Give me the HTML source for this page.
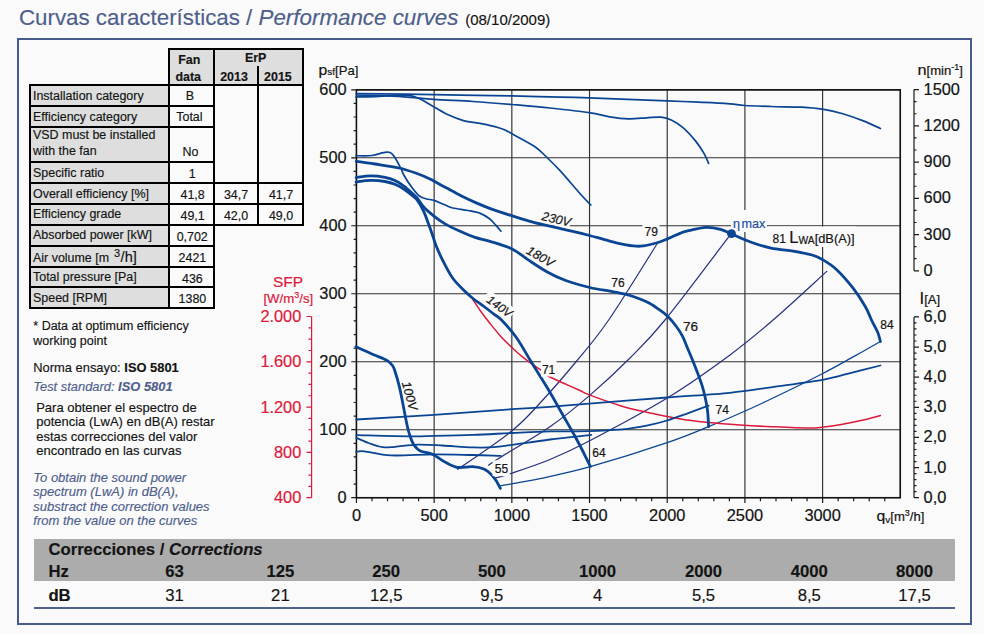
<!DOCTYPE html>
<html lang="es"><head><meta charset="utf-8"><title>Curvas características / Performance curves</title>
<style>
html,body{margin:0;padding:0}
body{width:984px;height:634px;position:relative;overflow:hidden;background:#fafafa;font-family:"Liberation Sans", Arial, Helvetica, sans-serif;color:#141414}
svg text{font-family:"Liberation Sans", Arial, Helvetica, sans-serif;stroke-width:0.2px}
body>div{-webkit-text-stroke:0.16px currentColor}
#frame{position:absolute;box-sizing:border-box;left:17.3px;top:38.2px;width:954.7px;height:587.3px;border:2px solid #465b8c;background:#fafafa}
</style></head><body>
<div style="position:absolute;top:7.00px;font-size:22.35px;line-height:22.35px;color:#4e5f8c;white-space:nowrap;left:18.90px;">Curvas características / <i>Performance curves</i> <span style="font-size:15.0px;color:#141414;margin-left:0.5px">(08/10/2009)</span></div>
<div id="frame"></div>
<div style="position:absolute;left:169.10px;top:48.80px;width:133.90px;height:35.80px;background:#dddedd"></div>
<div style="position:absolute;left:30.00px;top:84.60px;width:139.10px;height:223.60px;background:#dddedd"></div>
<div style="position:absolute;left:168.00px;top:47.70px;width:136.10px;height:2.20px;background:#000"></div>
<div style="position:absolute;left:28.90px;top:83.50px;width:275.20px;height:2.20px;background:#000"></div>
<div style="position:absolute;left:168.00px;top:47.70px;width:2.20px;height:261.60px;background:#000"></div>
<div style="position:absolute;left:213.00px;top:47.70px;width:2.20px;height:261.60px;background:#000"></div>
<div style="position:absolute;left:301.90px;top:47.70px;width:2.20px;height:178.50px;background:#000"></div>
<div style="position:absolute;left:257.30px;top:66.40px;width:2.20px;height:159.80px;background:#000"></div>
<div style="position:absolute;left:28.90px;top:83.50px;width:2.20px;height:225.80px;background:#000"></div>
<div style="position:absolute;left:28.90px;top:104.90px;width:186.30px;height:2.20px;background:#000"></div>
<div style="position:absolute;left:28.90px;top:126.10px;width:186.30px;height:2.20px;background:#000"></div>
<div style="position:absolute;left:28.90px;top:161.00px;width:186.30px;height:2.20px;background:#000"></div>
<div style="position:absolute;left:28.90px;top:182.10px;width:275.20px;height:2.20px;background:#000"></div>
<div style="position:absolute;left:28.90px;top:203.10px;width:275.20px;height:2.20px;background:#000"></div>
<div style="position:absolute;left:28.90px;top:224.00px;width:275.20px;height:2.20px;background:#000"></div>
<div style="position:absolute;left:28.90px;top:244.60px;width:186.30px;height:2.20px;background:#000"></div>
<div style="position:absolute;left:28.90px;top:265.50px;width:186.30px;height:2.20px;background:#000"></div>
<div style="position:absolute;left:28.90px;top:286.20px;width:186.30px;height:2.20px;background:#000"></div>
<div style="position:absolute;left:28.90px;top:307.10px;width:186.30px;height:2.20px;background:#000"></div>
<div style="position:absolute;top:54.00px;font-size:12.45px;line-height:12.45px;color:#141414;white-space:nowrap;font-weight:bold;left:-10.70px;width:400px;text-align:center;">Fan</div>
<div style="position:absolute;top:71.00px;font-size:12.45px;line-height:12.45px;color:#141414;white-space:nowrap;font-weight:bold;left:-11.80px;width:400px;text-align:center;">data</div>
<div style="position:absolute;top:52.00px;font-size:12.45px;line-height:12.45px;color:#141414;white-space:nowrap;font-weight:bold;left:55.60px;width:400px;text-align:center;">ErP</div>
<div style="position:absolute;top:71.00px;font-size:12.45px;line-height:12.45px;color:#141414;white-space:nowrap;font-weight:bold;left:34.00px;width:400px;text-align:center;">2013</div>
<div style="position:absolute;top:71.00px;font-size:12.45px;line-height:12.45px;color:#141414;white-space:nowrap;font-weight:bold;left:77.90px;width:400px;text-align:center;">2015</div>
<div style="position:absolute;top:90.00px;font-size:12.45px;line-height:12.45px;color:#141414;white-space:nowrap;left:33.00px;">Installation category</div>
<div style="position:absolute;top:90.00px;font-size:12.45px;line-height:12.45px;color:#141414;white-space:nowrap;left:-10.10px;width:400px;text-align:center;">B</div>
<div style="position:absolute;top:111.00px;font-size:12.45px;line-height:12.45px;color:#141414;white-space:nowrap;left:33.00px;">Efficiency category</div>
<div style="position:absolute;top:111.00px;font-size:12.45px;line-height:12.45px;color:#141414;white-space:nowrap;left:-10.60px;width:400px;text-align:center;">Total</div>
<div style="position:absolute;top:129.00px;font-size:12.45px;line-height:12.45px;color:#141414;white-space:nowrap;left:33.00px;">VSD must be installed</div>
<div style="position:absolute;top:145.00px;font-size:12.45px;line-height:12.45px;color:#141414;white-space:nowrap;left:33.00px;">with the fan</div>
<div style="position:absolute;top:146.00px;font-size:12.45px;line-height:12.45px;color:#141414;white-space:nowrap;left:-9.50px;width:400px;text-align:center;">No</div>
<div style="position:absolute;top:167.00px;font-size:12.45px;line-height:12.45px;color:#141414;white-space:nowrap;left:33.00px;">Specific ratio</div>
<div style="position:absolute;top:168.00px;font-size:12.45px;line-height:12.45px;color:#141414;white-space:nowrap;left:-7.80px;width:400px;text-align:center;">1</div>
<div style="position:absolute;top:188.00px;font-size:12.45px;line-height:12.45px;color:#141414;white-space:nowrap;left:33.00px;">Overall efficiency [%]</div>
<div style="position:absolute;top:189.00px;font-size:12.45px;line-height:12.45px;color:#141414;white-space:nowrap;left:-7.40px;width:400px;text-align:center;">41,8</div>
<div style="position:absolute;top:189.00px;font-size:12.45px;line-height:12.45px;color:#141414;white-space:nowrap;left:36.00px;width:400px;text-align:center;">34,7</div>
<div style="position:absolute;top:189.00px;font-size:12.45px;line-height:12.45px;color:#141414;white-space:nowrap;left:81.00px;width:400px;text-align:center;">41,7</div>
<div style="position:absolute;top:208.00px;font-size:12.45px;line-height:12.45px;color:#141414;white-space:nowrap;left:33.00px;">Efficiency grade</div>
<div style="position:absolute;top:210.00px;font-size:12.45px;line-height:12.45px;color:#141414;white-space:nowrap;left:-7.40px;width:400px;text-align:center;">49,1</div>
<div style="position:absolute;top:210.00px;font-size:12.45px;line-height:12.45px;color:#141414;white-space:nowrap;left:36.00px;width:400px;text-align:center;">42,0</div>
<div style="position:absolute;top:210.00px;font-size:12.45px;line-height:12.45px;color:#141414;white-space:nowrap;left:81.00px;width:400px;text-align:center;">49,0</div>
<div style="position:absolute;top:229.00px;font-size:12.45px;line-height:12.45px;color:#141414;white-space:nowrap;left:33.00px;">Absorbed power [kW]</div>
<div style="position:absolute;top:231.00px;font-size:12.45px;line-height:12.45px;color:#141414;white-space:nowrap;left:-7.80px;width:400px;text-align:center;">0,702</div>
<div style="position:absolute;top:251.00px;font-size:12.45px;line-height:12.45px;color:#141414;white-space:nowrap;left:33.00px;">Air volume [m <span style="font-size:11px;position:relative;top:-5px;margin-left:1.5px;margin-right:0.5px">3</span><span style="font-size:14.5px">/h]</span></div>
<div style="position:absolute;top:252.00px;font-size:12.45px;line-height:12.45px;color:#141414;white-space:nowrap;left:-7.60px;width:400px;text-align:center;">2421</div>
<div style="position:absolute;top:271.00px;font-size:12.45px;line-height:12.45px;color:#141414;white-space:nowrap;left:33.00px;">Total pressure [Pa]</div>
<div style="position:absolute;top:273.00px;font-size:12.45px;line-height:12.45px;color:#141414;white-space:nowrap;left:-7.60px;width:400px;text-align:center;">436</div>
<div style="position:absolute;top:292.00px;font-size:12.45px;line-height:12.45px;color:#141414;white-space:nowrap;left:33.00px;">Speed [RPM]</div>
<div style="position:absolute;top:293.00px;font-size:12.45px;line-height:12.45px;color:#141414;white-space:nowrap;left:-7.60px;width:400px;text-align:center;">1380</div>
<div style="position:absolute;top:320.00px;font-size:12.5px;line-height:12.5px;color:#141414;white-space:nowrap;left:33.30px;">* Data at optimum efficiency</div>
<div style="position:absolute;top:335.00px;font-size:12.5px;line-height:12.5px;color:#141414;white-space:nowrap;left:33.30px;">working point</div>
<div style="position:absolute;top:362.00px;font-size:12.9px;line-height:12.9px;color:#141414;white-space:nowrap;left:33.30px;">Norma ensayo: <b>ISO 5801</b></div>
<div style="position:absolute;top:381.00px;font-size:12.9px;line-height:12.9px;color:#4e5f8c;white-space:nowrap;left:33.30px;"><i>Test standard: <b>ISO 5801</b></i></div>
<div style="position:absolute;top:401.00px;font-size:13px;line-height:13px;color:#141414;white-space:nowrap;left:36.20px;">Para obtener el espectro de</div>
<div style="position:absolute;top:415.00px;font-size:13px;line-height:13px;color:#141414;white-space:nowrap;left:36.20px;">potencia (LwA) en dB(A) restar</div>
<div style="position:absolute;top:430.00px;font-size:13px;line-height:13px;color:#141414;white-space:nowrap;left:36.20px;">estas correcciones del valor</div>
<div style="position:absolute;top:444.00px;font-size:13px;line-height:13px;color:#141414;white-space:nowrap;left:36.20px;">encontrado en las curvas</div>
<div style="position:absolute;top:471.00px;font-size:13px;line-height:13px;color:#4e5f8c;white-space:nowrap;font-style:italic;left:33.30px;">To obtain the sound power</div>
<div style="position:absolute;top:485.00px;font-size:13px;line-height:13px;color:#4e5f8c;white-space:nowrap;font-style:italic;left:33.30px;">spectrum (LwA) in dB(A),</div>
<div style="position:absolute;top:500.00px;font-size:13px;line-height:13px;color:#4e5f8c;white-space:nowrap;font-style:italic;left:33.30px;">substract the correction values</div>
<div style="position:absolute;top:514.00px;font-size:13px;line-height:13px;color:#4e5f8c;white-space:nowrap;font-style:italic;left:33.30px;">from the value on the curves</div>
<div style="position:absolute;left:34.40px;top:539.10px;width:920.60px;height:42.30px;background:#acacac"></div>
<div style="position:absolute;left:34.40px;top:607.20px;width:920.60px;height:1.60px;background:#4e6293"></div>
<div style="position:absolute;top:542.00px;font-size:16.7px;line-height:16.7px;color:#141414;white-space:nowrap;font-weight:bold;left:48.40px;">Correcciones / <i>Corrections</i></div>
<div style="position:absolute;top:564.00px;font-size:16.7px;line-height:16.7px;color:#141414;white-space:nowrap;font-weight:bold;left:48.40px;">Hz</div>
<div style="position:absolute;top:588.00px;font-size:16.7px;line-height:16.7px;color:#141414;white-space:nowrap;font-weight:bold;left:48.40px;">dB</div>
<div style="position:absolute;top:564.00px;font-size:16.7px;line-height:16.7px;color:#141414;white-space:nowrap;font-weight:bold;left:-25.60px;width:400px;text-align:center;">63</div>
<div style="position:absolute;top:588.00px;font-size:16.7px;line-height:16.7px;color:#141414;white-space:nowrap;left:-25.60px;width:400px;text-align:center;">31</div>
<div style="position:absolute;top:564.00px;font-size:16.7px;line-height:16.7px;color:#141414;white-space:nowrap;font-weight:bold;left:80.40px;width:400px;text-align:center;">125</div>
<div style="position:absolute;top:588.00px;font-size:16.7px;line-height:16.7px;color:#141414;white-space:nowrap;left:80.40px;width:400px;text-align:center;">21</div>
<div style="position:absolute;top:564.00px;font-size:16.7px;line-height:16.7px;color:#141414;white-space:nowrap;font-weight:bold;left:186.20px;width:400px;text-align:center;">250</div>
<div style="position:absolute;top:588.00px;font-size:16.7px;line-height:16.7px;color:#141414;white-space:nowrap;left:186.20px;width:400px;text-align:center;">12,5</div>
<div style="position:absolute;top:564.00px;font-size:16.7px;line-height:16.7px;color:#141414;white-space:nowrap;font-weight:bold;left:291.80px;width:400px;text-align:center;">500</div>
<div style="position:absolute;top:588.00px;font-size:16.7px;line-height:16.7px;color:#141414;white-space:nowrap;left:291.80px;width:400px;text-align:center;">9,5</div>
<div style="position:absolute;top:564.00px;font-size:16.7px;line-height:16.7px;color:#141414;white-space:nowrap;font-weight:bold;left:397.60px;width:400px;text-align:center;">1000</div>
<div style="position:absolute;top:588.00px;font-size:16.7px;line-height:16.7px;color:#141414;white-space:nowrap;left:397.60px;width:400px;text-align:center;">4</div>
<div style="position:absolute;top:564.00px;font-size:16.7px;line-height:16.7px;color:#141414;white-space:nowrap;font-weight:bold;left:503.50px;width:400px;text-align:center;">2000</div>
<div style="position:absolute;top:588.00px;font-size:16.7px;line-height:16.7px;color:#141414;white-space:nowrap;left:503.50px;width:400px;text-align:center;">5,5</div>
<div style="position:absolute;top:564.00px;font-size:16.7px;line-height:16.7px;color:#141414;white-space:nowrap;font-weight:bold;left:609.30px;width:400px;text-align:center;">4000</div>
<div style="position:absolute;top:588.00px;font-size:16.7px;line-height:16.7px;color:#141414;white-space:nowrap;left:609.30px;width:400px;text-align:center;">8,5</div>
<div style="position:absolute;top:564.00px;font-size:16.7px;line-height:16.7px;color:#141414;white-space:nowrap;font-weight:bold;left:714.60px;width:400px;text-align:center;">8000</div>
<div style="position:absolute;top:588.00px;font-size:16.7px;line-height:16.7px;color:#141414;white-space:nowrap;left:714.60px;width:400px;text-align:center;">17,5</div>
<svg width="984" height="634" viewBox="0 0 984 634" style="position:absolute;left:0;top:0">
<path d="M356.45,89.80V497.70M434.14,89.80V497.70M511.84,89.80V497.70M589.53,89.80V497.70M667.22,89.80V497.70M744.91,89.80V497.70M822.61,89.80V497.70M900.30,89.80V497.70M356.45,497.70H900.30M356.45,429.72H900.30M356.45,361.73H900.30M356.45,293.75H900.30M356.45,225.77H900.30M356.45,157.78H900.30M356.45,89.80H900.30" stroke="#303030" stroke-width="1.15" fill="none"/>
<rect x="356.45" y="89.80" width="543.85" height="407.90" stroke="#111" stroke-width="1.5" fill="none"/>
<path d="M351.25,497.70H356.45M353.65,484.10H356.45M353.65,470.51H356.45M353.65,456.91H356.45M353.65,443.31H356.45M351.25,429.72H356.45M353.65,416.12H356.45M353.65,402.52H356.45M353.65,388.93H356.45M353.65,375.33H356.45M351.25,361.73H356.45M353.65,348.14H356.45M353.65,334.54H356.45M353.65,320.94H356.45M353.65,307.35H356.45M351.25,293.75H356.45M353.65,280.15H356.45M353.65,266.56H356.45M353.65,252.96H356.45M353.65,239.36H356.45M351.25,225.77H356.45M353.65,212.17H356.45M353.65,198.57H356.45M353.65,184.98H356.45M353.65,171.38H356.45M351.25,157.78H356.45M353.65,144.19H356.45M353.65,130.59H356.45M353.65,116.99H356.45M353.65,103.40H356.45M351.25,89.80H356.45M356.45,497.70V502.90M371.99,497.70V501.30M387.53,497.70V501.30M403.07,497.70V501.30M418.60,497.70V501.30M434.14,497.70V502.90M449.68,497.70V501.30M465.22,497.70V501.30M480.76,497.70V501.30M496.30,497.70V501.30M511.84,497.70V502.90M527.37,497.70V501.30M542.91,497.70V501.30M558.45,497.70V501.30M573.99,497.70V501.30M589.53,497.70V502.90M605.07,497.70V501.30M620.61,497.70V501.30M636.14,497.70V501.30M651.68,497.70V501.30M667.22,497.70V502.90M682.76,497.70V501.30M698.30,497.70V501.30M713.84,497.70V501.30M729.38,497.70V501.30M744.91,497.70V502.90M760.45,497.70V501.30M775.99,497.70V501.30M791.53,497.70V501.30M807.07,497.70V501.30M822.61,497.70V502.90M838.15,497.70V501.30M853.68,497.70V501.30M869.22,497.70V501.30M884.76,497.70V501.30" stroke="#1a1a1a" stroke-width="1.2" fill="none"/>
<path d="M914.0,89.6V270.8M914.0,270.80h5.0M914.0,258.72h2.5M914.0,246.64h2.5M914.0,234.56h5.0M914.0,222.48h2.5M914.0,210.40h2.5M914.0,198.32h5.0M914.0,186.24h2.5M914.0,174.16h2.5M914.0,162.08h5.0M914.0,150.00h2.5M914.0,137.92h2.5M914.0,125.84h5.0M914.0,113.76h2.5M914.0,101.68h2.5M914.0,89.60h5.0M914.0,316.9V497.7M914.0,497.70h5.0M914.0,491.67h2.5M914.0,485.65h2.5M914.0,479.62h2.5M914.0,473.59h2.5M914.0,467.57h5.0M914.0,461.54h2.5M914.0,455.51h2.5M914.0,449.49h2.5M914.0,443.46h2.5M914.0,437.43h5.0M914.0,431.41h2.5M914.0,425.38h2.5M914.0,419.35h2.5M914.0,413.33h2.5M914.0,407.30h5.0M914.0,401.27h2.5M914.0,395.25h2.5M914.0,389.22h2.5M914.0,383.19h2.5M914.0,377.17h5.0M914.0,371.14h2.5M914.0,365.11h2.5M914.0,359.09h2.5M914.0,353.06h2.5M914.0,347.03h5.0M914.0,341.01h2.5M914.0,334.98h2.5M914.0,328.95h2.5M914.0,322.93h2.5M914.0,316.90h5.0" stroke="#1a1a1a" stroke-width="1.2" fill="none"/>
<path d="M311.6,316.5V497.7M311.6,497.70h-5.2M311.6,486.38h-3.2M311.6,475.05h-3.2M311.6,463.73h-3.2M311.6,452.40h-5.2M311.6,441.07h-3.2M311.6,429.75h-3.2M311.6,418.43h-3.2M311.6,407.10h-5.2M311.6,395.77h-3.2M311.6,384.45h-3.2M311.6,373.12h-3.2M311.6,361.80h-5.2M311.6,350.48h-3.2M311.6,339.15h-3.2M311.6,327.82h-3.2M311.6,316.50h-5.2" stroke="#dc1a3c" stroke-width="1.2" fill="none"/>
<rect x="731" y="210" width="36" height="22" fill="#fafafa"/>
<rect x="768" y="226.5" width="88" height="20.5" fill="#fafafa"/>
<rect x="642.5" y="223" width="17.0" height="15" fill="#fafafa"/>
<g transform="rotate(12.5 556 219)"><rect x="540" y="212" width="31" height="14" fill="#fafafa"/></g>
<g transform="rotate(36 498.7 305.6)"><rect x="482" y="298.5" width="33" height="14" fill="#fafafa"/></g>
<path d="M457.7,469.3C466.8,462.9 497.8,442.4 512.0,430.8C526.2,419.2 532.3,411.3 542.8,400.0C553.3,388.7 564.0,376.3 575.0,363.0C586.0,349.7 595.0,339.9 608.7,320.0C622.4,300.1 649.2,256.2 657.3,243.5" stroke="#26307f" stroke-width="1.2" fill="none" stroke-linecap="round" stroke-linejoin="round"/>
<path d="M488.5,465.2C490.7,463.7 491.6,462.8 501.8,456.4C512.0,450.0 535.4,436.8 550.0,426.7C564.6,416.6 575.9,407.3 589.2,395.9C602.5,384.4 617.4,370.6 630.0,358.0C642.6,345.4 648.5,340.2 665.0,320.0C681.5,299.8 718.1,250.8 728.7,236.9" stroke="#26307f" stroke-width="1.2" fill="none" stroke-linecap="round" stroke-linejoin="round"/>
<path d="M495.6,478.0C498.0,477.3 500.9,476.9 510.0,473.8C519.1,470.7 536.8,465.0 550.0,459.5C563.2,454.0 569.7,451.2 589.2,441.0C608.7,430.8 643.7,412.4 667.2,398.0C690.7,383.6 712.4,367.9 730.0,354.9C747.6,341.9 757.0,333.9 773.1,320.0C789.2,306.1 817.8,279.5 826.8,271.4" stroke="#26307f" stroke-width="1.2" fill="none" stroke-linecap="round" stroke-linejoin="round"/>
<path d="M500.8,485.7C507.3,484.5 525.1,481.8 540.0,478.6C554.9,475.4 569.1,472.7 590.3,466.7C611.5,460.7 647.5,449.4 667.2,442.7C686.9,436.0 696.5,431.6 708.6,426.7C720.7,421.8 729.6,417.9 740.0,413.3C750.4,408.7 757.3,405.6 771.0,399.0C784.7,392.4 808.6,380.7 822.3,373.7C836.0,366.7 843.4,362.3 853.1,356.9C862.8,351.5 875.9,344.1 880.4,341.5" stroke="#0a4593" stroke-width="1.25" fill="none" stroke-linecap="round" stroke-linejoin="round"/>
<path d="M472.7,299.3C474.0,301.2 477.5,306.8 480.5,311.0C483.5,315.2 487.4,320.1 490.8,324.4C494.2,328.7 497.6,332.9 501.0,336.7C504.4,340.4 507.9,343.6 511.3,346.9C514.7,350.1 518.1,353.4 521.5,356.2C524.9,359.0 528.4,361.4 531.8,363.9C535.2,366.3 539.3,368.9 542.0,370.9C544.7,372.9 544.8,374.0 548.2,376.0C551.6,378.0 557.3,380.4 562.6,382.8C567.9,385.2 575.6,388.5 580.0,390.5C584.4,392.5 582.2,392.3 589.2,394.9C596.2,397.5 612.4,403.3 622.0,406.2C631.6,409.1 639.2,410.6 646.7,412.3C654.2,414.0 660.4,415.1 667.2,416.4C674.0,417.7 680.8,419.1 687.7,420.1C694.6,421.1 699.9,421.8 708.6,422.6C717.3,423.4 729.6,424.3 740.0,425.0C750.4,425.7 759.7,426.2 771.0,426.7C782.3,427.2 799.5,428.0 808.0,428.1C816.5,428.2 816.5,428.0 822.3,427.3C828.1,426.6 836.0,425.4 842.8,424.2C849.6,423.0 857.0,421.3 863.3,419.9C869.6,418.5 877.5,416.3 880.4,415.6" stroke="#dc1a3c" stroke-width="1.5" fill="none" stroke-linecap="round" stroke-linejoin="round"/>
<path d="M356.2,93.6C369.2,93.8 408.0,94.2 434.0,94.6C460.0,95.0 492.7,95.5 512.0,95.9C531.3,96.3 537.1,96.6 550.0,96.9C562.9,97.2 569.7,97.2 589.2,97.9C608.7,98.6 648.1,100.0 667.2,100.8C686.4,101.5 693.6,101.9 704.1,102.4C714.6,102.9 723.2,103.4 730.0,103.9C736.8,104.4 738.0,105.1 744.8,105.5C751.6,105.9 761.5,106.2 771.0,106.5C780.5,106.8 793.2,106.8 801.8,107.2C810.3,107.7 815.5,108.1 822.3,109.2C829.1,110.3 836.0,111.8 842.8,113.7C849.6,115.7 857.0,118.4 863.3,120.9C869.6,123.4 877.5,127.2 880.4,128.5" stroke="#0a4593" stroke-width="1.7" fill="none" stroke-linecap="round" stroke-linejoin="round"/>
<path d="M356.4,95.0C361.4,95.2 377.7,95.5 386.6,95.9C395.5,96.3 402.1,96.7 410.0,97.3C417.9,97.9 423.5,98.7 434.0,99.4C444.5,100.1 460.0,100.7 473.0,101.5C486.0,102.3 499.2,103.4 512.0,104.5C524.8,105.6 537.1,106.6 550.0,108.0C562.9,109.4 579.2,111.2 589.2,112.7C599.2,114.2 603.2,115.8 609.7,116.8C616.2,117.8 622.0,118.6 628.2,118.8C634.4,119.0 641.2,118.1 646.7,117.8C652.2,117.5 656.9,116.8 661.0,117.2C665.1,117.6 667.5,118.1 671.3,119.9C675.1,121.7 679.5,124.5 683.6,128.1C687.7,131.7 692.5,137.1 695.9,141.4C699.3,145.7 702.0,150.0 704.1,153.7C706.2,157.4 707.9,161.8 708.6,163.4" stroke="#0a4593" stroke-width="1.7" fill="none" stroke-linecap="round" stroke-linejoin="round"/>
<path d="M356.0,96.8C359.2,96.8 368.5,96.8 375.0,96.6C381.5,96.3 389.5,95.5 395.0,95.3C400.5,95.1 404.5,95.1 408.0,95.4C411.5,95.7 413.5,96.4 416.0,97.2C418.5,98.0 420.2,98.9 423.2,100.5C426.2,102.1 429.8,104.5 434.1,106.9C438.4,109.3 443.9,112.8 448.8,115.1C453.7,117.4 457.3,119.0 463.4,120.6C469.5,122.1 479.0,123.0 485.4,124.4C491.8,125.8 497.4,127.2 501.8,128.8C506.2,130.4 506.5,130.9 512.0,133.8C517.5,136.8 528.8,142.6 534.6,146.5C540.4,150.4 542.7,153.4 547.0,157.5C551.3,161.6 554.8,165.0 560.5,171.2C566.2,177.4 575.9,189.1 581.0,194.7C586.1,200.3 589.2,203.3 590.9,205.0" stroke="#0a4593" stroke-width="1.7" fill="none" stroke-linecap="round" stroke-linejoin="round"/>
<path d="M356.0,155.7C358.7,155.7 366.9,156.1 372.0,155.5C377.1,154.9 382.9,152.3 386.4,152.2C389.9,152.1 390.6,152.2 393.0,154.9C395.4,157.6 399.0,164.8 400.8,168.2C402.6,171.5 402.0,171.8 403.8,175.0C405.6,178.2 409.0,183.6 411.6,187.1C414.2,190.6 416.9,194.1 419.3,196.0C421.7,197.9 423.3,197.9 425.9,198.7C428.5,199.5 431.6,199.6 434.7,200.6C437.8,201.6 441.7,203.6 444.7,204.8C447.7,206.0 449.0,207.1 452.9,208.0C456.8,208.9 463.5,209.6 468.1,210.5C472.7,211.4 476.7,212.0 480.3,213.4C483.9,214.8 487.0,216.9 489.5,218.8C492.0,220.7 493.6,222.8 495.5,224.9C497.4,227.0 500.0,230.1 500.9,231.2" stroke="#0a4593" stroke-width="1.7" fill="none" stroke-linecap="round" stroke-linejoin="round"/>
<path d="M356.2,419.5C369.2,418.7 408.1,416.5 434.1,414.8C460.1,413.1 492.7,410.5 512.0,409.2C531.3,407.9 537.1,407.7 550.0,406.8C562.9,405.9 569.7,405.2 589.2,403.7C608.7,402.1 643.7,399.3 667.2,397.5C690.7,395.7 712.7,394.5 730.0,392.8C747.3,391.1 755.6,389.5 771.0,387.3C786.4,385.1 808.6,382.4 822.3,379.9C836.0,377.4 843.4,374.7 853.1,372.3C862.8,369.9 875.9,366.6 880.4,365.5" stroke="#0a4593" stroke-width="1.8" fill="none" stroke-linecap="round" stroke-linejoin="round"/>
<path d="M356.2,435.1C365.4,435.3 398.5,436.2 411.5,436.3C424.5,436.4 423.9,436.1 434.1,435.9C444.4,435.7 460.0,435.4 473.0,434.9C486.0,434.4 499.2,433.6 512.0,433.0C524.8,432.4 537.1,431.7 550.0,431.4C562.9,431.1 577.2,431.5 589.2,431.2C601.2,430.9 612.4,430.3 622.0,429.4C631.6,428.5 639.2,427.1 646.7,425.6C654.2,424.1 660.4,422.6 667.2,420.5C674.0,418.4 680.8,415.8 687.7,413.3C694.6,410.8 705.1,407.0 708.6,405.7" stroke="#0a4593" stroke-width="1.8" fill="none" stroke-linecap="round" stroke-linejoin="round"/>
<path d="M356.2,437.7C358.2,438.6 364.1,441.4 368.5,443.0C372.9,444.6 378.4,446.6 382.8,447.2C387.2,447.8 389.2,447.2 395.0,446.8C400.8,446.4 409.8,444.8 417.7,444.6C425.6,444.4 433.1,445.0 442.3,445.5C451.5,446.0 464.4,447.1 473.0,447.4C481.6,447.7 487.1,447.6 493.6,447.2C500.1,446.8 502.6,446.2 512.0,444.9C521.4,443.6 536.8,441.2 550.0,439.5C563.2,437.8 584.4,435.7 591.3,434.9" stroke="#0a4593" stroke-width="1.8" fill="none" stroke-linecap="round" stroke-linejoin="round"/>
<path d="M356.2,451.9C357.6,451.8 358.6,450.7 364.4,451.3C370.2,451.9 379.4,454.9 391.0,455.4C402.6,455.9 420.3,454.5 434.0,454.4C447.7,454.3 461.9,454.8 473.0,455.0C484.1,455.2 496.2,455.7 500.8,455.8" stroke="#0a4593" stroke-width="1.8" fill="none" stroke-linecap="round" stroke-linejoin="round"/>
<path d="M355.9,346.8C358.9,348.1 369.0,352.7 373.7,354.7C378.4,356.7 381.5,357.9 384.0,359.0C386.5,360.1 387.2,360.5 388.5,361.5C389.8,362.5 391.0,363.7 392.0,365.0C393.0,366.3 393.2,365.9 394.4,369.5C395.6,373.1 397.8,380.2 399.3,386.3C400.8,392.4 402.0,399.4 403.3,406.0C404.6,412.6 406.1,420.7 407.2,425.7C408.3,430.7 409.0,433.0 410.0,436.0C411.0,439.0 412.0,441.5 413.1,443.5C414.2,445.5 415.2,446.7 416.5,448.0C417.8,449.3 418.2,450.1 421.0,451.2C423.8,452.3 429.2,452.8 433.0,454.5C436.8,456.2 439.6,459.2 443.6,461.3C447.6,463.4 452.0,466.4 456.8,467.3C461.6,468.2 468.1,466.3 472.7,466.6C477.3,466.9 481.2,467.8 484.5,469.3C487.8,470.9 490.5,473.9 492.5,475.9C494.5,477.9 495.1,479.0 496.4,481.1C497.7,483.2 499.7,487.2 500.4,488.4" stroke="#0a4593" stroke-width="2.8" fill="none" stroke-linecap="round" stroke-linejoin="round"/>
<path d="M356.1,182.0C358.5,181.7 365.7,180.5 370.5,180.4C375.3,180.3 380.9,180.8 385.0,181.5C389.1,182.2 391.6,182.9 395.0,184.3C398.4,185.7 402.4,188.1 405.2,190.0C408.0,191.9 410.0,193.9 412.0,195.5C414.0,197.1 415.2,197.2 417.1,199.8C419.1,202.5 421.7,207.1 423.7,211.4C425.7,215.7 427.6,221.6 429.2,225.8C430.8,230.0 432.0,233.6 433.1,236.8C434.2,240.0 434.3,241.2 435.8,245.0C437.3,248.8 439.5,254.0 442.3,259.5C445.1,265.0 448.8,272.7 452.6,278.0C456.4,283.3 461.5,287.9 464.9,291.3C468.3,294.7 469.8,296.0 473.0,298.5C476.2,301.0 480.5,303.9 484.0,306.5C487.5,309.1 491.0,311.9 493.8,314.1C496.6,316.3 497.3,315.8 501.0,319.6C504.7,323.4 511.0,330.0 516.0,337.0C521.0,344.0 525.8,353.0 531.0,361.5C536.2,370.0 542.1,379.1 547.3,387.8C552.5,396.5 557.4,405.4 562.0,413.5C566.6,421.6 571.7,430.3 575.1,436.5C578.5,442.7 580.0,445.5 582.5,450.5C585.0,455.5 589.0,463.8 590.3,466.4" stroke="#0a4593" stroke-width="2.8" fill="none" stroke-linecap="round" stroke-linejoin="round"/>
<path d="M356.1,177.6C358.5,177.3 365.7,175.9 370.5,175.9C375.3,175.9 380.9,176.5 385.0,177.3C389.1,178.1 391.6,179.0 395.0,180.6C398.4,182.2 402.4,184.9 405.2,187.0C408.0,189.1 410.0,191.2 412.0,193.0C414.0,194.8 415.2,195.6 417.1,197.9C419.1,200.2 420.9,204.0 423.7,207.0C426.4,210.0 430.1,213.0 433.6,215.8C437.1,218.6 440.1,220.9 444.7,223.6C449.3,226.3 456.1,229.5 461.2,231.8C466.2,234.1 470.2,235.8 475.0,237.4C479.8,239.0 483.8,239.5 490.0,241.4C496.2,243.3 505.8,245.9 512.1,249.0C518.4,252.1 522.1,255.9 527.9,259.7C533.7,263.5 540.5,268.2 546.8,271.7C553.1,275.2 558.6,277.9 565.7,280.5C572.9,283.1 582.3,285.7 589.7,287.5C597.1,289.3 603.9,290.1 610.0,291.2C616.1,292.3 621.2,293.1 626.2,294.4C631.2,295.7 636.1,297.5 640.0,299.0C643.9,300.5 646.4,301.5 649.5,303.2C652.6,304.9 655.9,307.3 658.9,309.4C661.9,311.5 664.5,313.2 667.4,316.0C670.2,318.8 673.5,322.6 676.0,326.0C678.5,329.4 680.6,332.4 682.6,336.4C684.6,340.4 686.6,346.1 688.3,350.0C689.9,353.9 690.2,354.1 692.5,360.0C694.8,365.9 699.6,377.6 702.1,385.6C704.6,393.6 706.1,401.4 707.2,408.2C708.3,415.0 708.4,423.6 708.6,426.7" stroke="#0a4593" stroke-width="2.8" fill="none" stroke-linecap="round" stroke-linejoin="round"/>
<path d="M356.2,161.4C359.3,161.8 367.9,162.9 375.0,164.0C382.1,165.1 392.0,166.4 399.0,168.0C406.0,169.6 411.8,171.7 417.0,173.5C422.2,175.3 425.3,176.8 430.0,179.1C434.7,181.4 440.1,184.6 445.2,187.3C450.3,190.0 455.4,192.9 460.5,195.5C465.6,198.1 470.6,200.4 475.7,202.6C480.8,204.8 485.0,206.7 491.0,208.9C497.0,211.1 505.2,213.7 511.6,215.7C518.0,217.7 523.7,219.6 529.1,221.1C534.5,222.6 539.2,223.7 544.3,224.9C549.4,226.1 554.5,227.2 559.6,228.4C564.7,229.6 570.0,230.6 575.0,231.8C580.0,233.0 584.0,234.0 589.6,235.5C595.2,237.0 603.1,239.3 608.9,240.8C614.7,242.3 619.4,243.7 624.6,244.6C629.9,245.5 635.1,246.5 640.4,246.2C645.7,245.9 651.6,244.3 656.2,243.0C660.8,241.7 664.0,240.2 668.0,238.6C672.0,237.0 676.7,234.7 680.0,233.4C683.3,232.1 683.3,231.8 687.7,230.8C692.1,229.8 700.7,227.6 706.2,227.3C711.7,227.1 716.3,228.2 720.5,229.3C724.7,230.4 726.2,231.7 731.2,233.8C736.2,235.9 743.9,239.6 750.5,242.0C757.1,244.4 764.2,246.7 771.0,248.2C777.8,249.7 784.7,249.8 791.5,250.9C798.3,252.0 806.9,253.6 812.0,255.0C817.1,256.4 818.2,257.1 822.3,259.5C826.4,261.9 831.6,264.9 836.7,269.7C841.8,274.5 848.3,282.0 853.1,288.2C857.9,294.4 862.3,301.4 865.4,306.7C868.5,312.0 869.5,315.7 871.5,320.0C873.5,324.3 876.2,328.7 877.7,332.3C879.2,335.9 880.0,340.0 880.4,341.5" stroke="#0a4593" stroke-width="2.8" fill="none" stroke-linecap="round" stroke-linejoin="round"/>
<circle cx="731.5" cy="233.7" r="4.4" fill="#0a4593"/>
<rect x="541" y="361" width="15.5" height="15.5" fill="#fafafa"/>
<rect x="492.6" y="460.4" width="17.099999999999966" height="15.800000000000011" fill="#fafafa"/>
<text transform="translate(346.60 503.30) scale(1.01 1)" font-size="16.2" text-anchor="end" fill="#141414" stroke="#141414">0</text>
<text transform="translate(346.60 435.32) scale(1.01 1)" font-size="16.2" text-anchor="end" fill="#141414" stroke="#141414">100</text>
<text transform="translate(346.60 367.33) scale(1.01 1)" font-size="16.2" text-anchor="end" fill="#141414" stroke="#141414">200</text>
<text transform="translate(346.60 299.35) scale(1.01 1)" font-size="16.2" text-anchor="end" fill="#141414" stroke="#141414">300</text>
<text transform="translate(346.60 231.37) scale(1.01 1)" font-size="16.2" text-anchor="end" fill="#141414" stroke="#141414">400</text>
<text transform="translate(346.60 163.38) scale(1.01 1)" font-size="16.2" text-anchor="end" fill="#141414" stroke="#141414">500</text>
<text transform="translate(346.60 95.40) scale(1.01 1)" font-size="16.2" text-anchor="end" fill="#141414" stroke="#141414">600</text>
<text transform="translate(356.45 521.20) scale(1.01 1)" font-size="16.2" text-anchor="middle" fill="#141414" stroke="#141414">0</text>
<text transform="translate(434.14 521.20) scale(1.01 1)" font-size="16.2" text-anchor="middle" fill="#141414" stroke="#141414">500</text>
<text transform="translate(511.84 521.20) scale(1.01 1)" font-size="16.2" text-anchor="middle" fill="#141414" stroke="#141414">1000</text>
<text transform="translate(589.53 521.20) scale(1.01 1)" font-size="16.2" text-anchor="middle" fill="#141414" stroke="#141414">1500</text>
<text transform="translate(667.22 521.20) scale(1.01 1)" font-size="16.2" text-anchor="middle" fill="#141414" stroke="#141414">2000</text>
<text transform="translate(744.91 521.20) scale(1.01 1)" font-size="16.2" text-anchor="middle" fill="#141414" stroke="#141414">2500</text>
<text transform="translate(822.61 521.20) scale(1.01 1)" font-size="16.2" text-anchor="middle" fill="#141414" stroke="#141414">3000</text>
<text transform="translate(923.60 275.80) scale(1.01 1)" font-size="16.2" text-anchor="start" fill="#141414" stroke="#141414">0</text>
<text transform="translate(923.60 239.56) scale(1.01 1)" font-size="16.2" text-anchor="start" fill="#141414" stroke="#141414">300</text>
<text transform="translate(923.60 203.32) scale(1.01 1)" font-size="16.2" text-anchor="start" fill="#141414" stroke="#141414">600</text>
<text transform="translate(923.60 167.08) scale(1.01 1)" font-size="16.2" text-anchor="start" fill="#141414" stroke="#141414">900</text>
<text transform="translate(923.60 130.84) scale(1.01 1)" font-size="16.2" text-anchor="start" fill="#141414" stroke="#141414">1200</text>
<text transform="translate(923.60 94.60) scale(1.01 1)" font-size="16.2" text-anchor="start" fill="#141414" stroke="#141414">1500</text>
<text transform="translate(923.60 502.70) scale(1.01 1)" font-size="16.2" text-anchor="start" fill="#141414" stroke="#141414">0,0</text>
<text transform="translate(923.60 472.57) scale(1.01 1)" font-size="16.2" text-anchor="start" fill="#141414" stroke="#141414">1,0</text>
<text transform="translate(923.60 442.43) scale(1.01 1)" font-size="16.2" text-anchor="start" fill="#141414" stroke="#141414">2,0</text>
<text transform="translate(923.60 412.30) scale(1.01 1)" font-size="16.2" text-anchor="start" fill="#141414" stroke="#141414">3,0</text>
<text transform="translate(923.60 382.17) scale(1.01 1)" font-size="16.2" text-anchor="start" fill="#141414" stroke="#141414">4,0</text>
<text transform="translate(923.60 352.03) scale(1.01 1)" font-size="16.2" text-anchor="start" fill="#141414" stroke="#141414">5,0</text>
<text transform="translate(923.60 321.90) scale(1.01 1)" font-size="16.2" text-anchor="start" fill="#141414" stroke="#141414">6,0</text>
<text transform="translate(301.30 503.20) scale(1.01 1)" font-size="16.2" text-anchor="end" fill="#dc1a3c" stroke="#dc1a3c">400</text>
<text transform="translate(301.30 457.90) scale(1.01 1)" font-size="16.2" text-anchor="end" fill="#dc1a3c" stroke="#dc1a3c">800</text>
<text transform="translate(301.30 412.60) scale(1.01 1)" font-size="16.2" text-anchor="end" fill="#dc1a3c" stroke="#dc1a3c">1.200</text>
<text transform="translate(301.30 367.30) scale(1.01 1)" font-size="16.2" text-anchor="end" fill="#dc1a3c" stroke="#dc1a3c">1.600</text>
<text transform="translate(301.30 322.00) scale(1.01 1)" font-size="16.2" text-anchor="end" fill="#dc1a3c" stroke="#dc1a3c">2.000</text>
<text transform="translate(318.50 74.50) scale(1.05 1)" font-size="15" text-anchor="start" fill="#141414" stroke="#141414">p<tspan font-size="9.5" dy="0">sf</tspan><tspan font-size="12.5">[Pa]</tspan></text>
<text transform="translate(917.50 74.90) scale(1.05 1)" font-size="15.5" text-anchor="start" fill="#141414" stroke="#141414">n<tspan font-size="12.5">[min</tspan><tspan font-size="8.5" dy="-5">-1</tspan><tspan font-size="12.5" dy="5">]</tspan></text>
<text transform="translate(919.50 304.00) scale(1.05 1)" font-size="16" text-anchor="start" fill="#141414" stroke="#141414">I<tspan font-size="12.5">[A]</tspan></text>
<text transform="translate(876.50 521.00) scale(1.05 1)" font-size="15" text-anchor="start" fill="#141414" stroke="#141414">q<tspan font-size="9.5" dy="1.5">v</tspan><tspan font-size="12.5" dy="-1.5">[m</tspan><tspan font-size="8.5" dy="-5">3</tspan><tspan font-size="12.5" dy="5">/h]</tspan></text>
<text transform="translate(288.00 287.00) scale(1.06 1)" font-size="14.6" text-anchor="middle" fill="#dc1a3c" stroke="#dc1a3c">SFP</text>
<text transform="translate(288.30 302.90) scale(1.05 1)" font-size="12.6" text-anchor="middle" fill="#dc1a3c" stroke="#dc1a3c">[W/m<tspan font-size="8.5" dy="-5">3</tspan><tspan dy="5">/s]</tspan></text>
<text transform="translate(651.20 236.00) scale(1.0 1)" font-size="12" text-anchor="middle" fill="#141414" stroke="#141414">79</text>
<text transform="translate(618.00 286.80) scale(1.0 1)" font-size="12" text-anchor="middle" fill="#141414" stroke="#141414">76</text>
<text transform="translate(690.60 331.00) scale(1.13 1)" font-size="12" text-anchor="middle" fill="#141414" stroke="#141414">76</text>
<text transform="translate(548.60 373.70) scale(1.0 1)" font-size="12" text-anchor="middle" fill="#141414" stroke="#141414">71</text>
<text transform="translate(722.20 414.30) scale(1.0 1)" font-size="12" text-anchor="middle" fill="#141414" stroke="#141414">74</text>
<text transform="translate(598.90 457.20) scale(1.0 1)" font-size="12" text-anchor="middle" fill="#141414" stroke="#141414">64</text>
<text transform="translate(501.40 473.00) scale(1.0 1)" font-size="12" text-anchor="middle" fill="#141414" stroke="#141414">55</text>
<text transform="translate(887.00 328.80) scale(1.0 1)" font-size="12" text-anchor="middle" fill="#141414" stroke="#141414">84</text>
<text transform="translate(772.60 243.00) scale(1.0 1)" font-size="12" text-anchor="start" fill="#141414" stroke="#141414">81 <tspan font-size="16.5">L</tspan><tspan font-size="10.3" dy="1">WA</tspan><tspan font-size="12.8" dy="-1">[dB(A)]</tspan></text>
<text transform="translate(733.00 227.60) scale(1.0 1)" font-size="12.6" text-anchor="start" fill="#1f4fa3" stroke="#1f4fa3">η<tspan dx="1.5">max</tspan></text>
<text transform="translate(555.4 223.3) rotate(12.5)" font-size="12.6" font-style="italic" text-anchor="middle" fill="#141414" stroke="#141414">230V</text>
<text transform="translate(538.3 260.3) rotate(30)" font-size="12.6" font-style="italic" text-anchor="middle" fill="#141414" stroke="#141414">180V</text>
<text transform="translate(497.2 309.8) rotate(36)" font-size="12" font-style="italic" text-anchor="middle" fill="#141414" stroke="#141414">140V</text>
<text transform="translate(405.6 397) rotate(75)" font-size="12.6" font-style="italic" text-anchor="middle" fill="#141414" stroke="#141414">100V</text>
</svg>
</body></html>
